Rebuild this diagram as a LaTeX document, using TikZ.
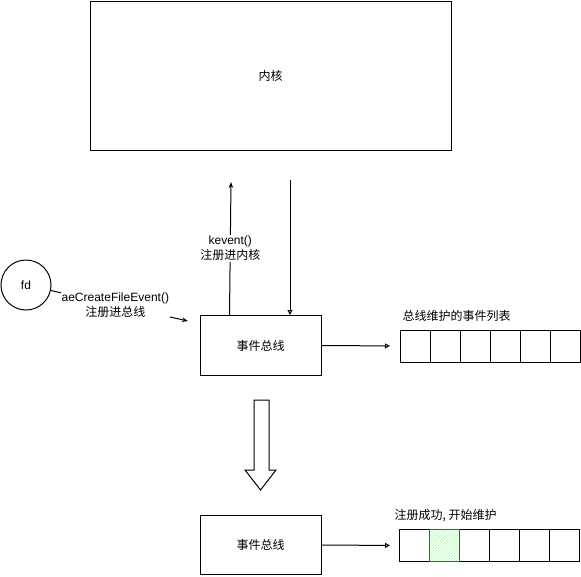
\documentclass[tikz,border=0pt]{standalone}
\usepackage{fontspec}
\setmainfont{Liberation Sans}
\newfontfamily\cjk{Noto Sans CJK SC}
\usetikzlibrary{positioning, arrows.meta, patterns}

\tikzset{
  busbox/.style={draw, minimum width=121pt, minimum height=60pt, font=\cjk\fontsize{12}{15}\selectfont},
  cell/.style={draw, minimum width=30pt, minimum height=32pt, inner sep=0pt, outer sep=0pt},
  lbl/.style={fill=white, align=center, inner sep=1pt},
  listlbl/.style={inner sep=0pt, font=\cjk\fontsize{12}{15}\selectfont},
  openarrow/.style={-{Triangle[open, length=5pt, width=5pt]}},
  sharparrow/.style={-{Stealth[length=6pt, width=4.5pt]}},
}

\begin{document}
\begin{tikzpicture}[x=1pt, y=-1pt, line width=1pt, font=\fontsize{12}{15}\selectfont]
  \useasboundingbox (0,0) rectangle (581,576);

  % kernel and the two event buses
  \node[busbox, minimum width=361pt, minimum height=149pt] (kernel) at (270.5,75.5) {内核};
  \node[draw, circle, minimum size=50pt, inner sep=0pt] (fd) at (26,285) {fd};
  \node[busbox] (bus1) at (260.5,345.5) {事件总线};
  \node[busbox, minimum height=59pt] (bus2) at (260.5,545) {事件总线};

  % event lists
  \foreach \i in {0,...,5}
    \node[cell] (a\i) at (415+30*\i,346) {};
  \foreach \i in {0,...,5}
    \node[cell] (b\i) at (414+30*\i,545.5) {};
  \draw[green!55!black, pattern=north east lines, pattern color=green!35]
    (b1.north west) rectangle (b1.south east);

  \node[listlbl, above right=8pt and 2pt of a0.north west] (lista) {总线维护的事件列表};
  \node[listlbl, above right=7pt and -5pt of b0.north west] (listb) {注册成功, 开始维护};

  % connectors
  \coordinate (fdend) at (188,321);
  \coordinate (kup) at (231,182);
  \coordinate (kdown) at (290,180);

  \draw[sharparrow] (fd) -- node[lbl, pos=0.47] {aeCreateFileEvent()\\{\cjk 注册进总线}} (fdend);
  \draw[sharparrow] ([xshift=30pt]bus1.north west) -- node[lbl] {kevent()\\{\cjk 注册进内核}} (kup);
  \draw[openarrow] (kdown) -- (kdown |- bus1.north);
  \draw[openarrow, shorten >=10pt] (bus1.east) -- (a0.west);
  \draw[openarrow, shorten >=9pt] (bus2.east) -- (b0.west);

  % hollow arrow between the two states
  \draw (254,400) -- (269,400) -- (269,470) -- (276,470) -- (260.5,490)
    -- (245,470) -- (254,470) -- cycle;
\end{tikzpicture}
\end{document}
